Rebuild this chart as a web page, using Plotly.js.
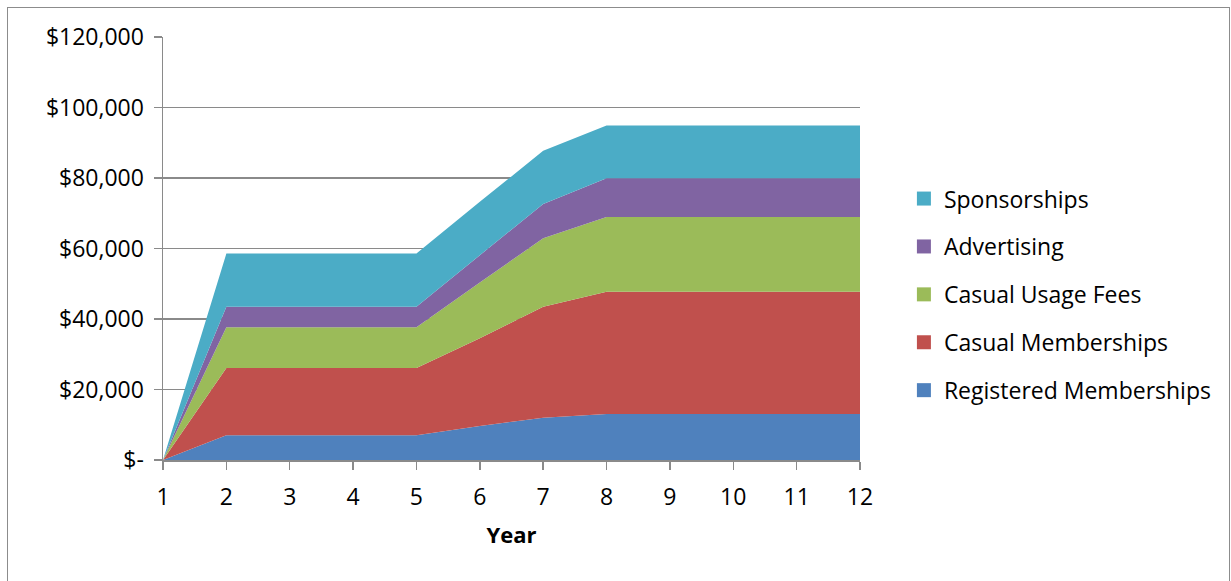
<!DOCTYPE html>
<html>
<head>
<meta charset="utf-8">
<script src="https://cdn.plot.ly/plotly-3.0.1.min.js"></script>
<style>
  html, body { margin: 0; padding: 0; background: #fff; }
  #frame { position: absolute; left: 7px; top: 7px; width: 1221px; height: 600px; border: 1px solid #8c8c8c; }
  #chart { position: absolute; left: 0; top: 0; width: 1231px; height: 581px; }
</style>
</head>
<body>
<div id="frame"></div>
<div id="chart"></div>
<script>
const years = [1, 2, 3, 4, 5, 6, 7, 8, 9, 10, 11, 12];
const registeredMemberships = [0, 7000, 7000, 7000, 7000, 9650, 12000, 13060, 13060, 13060, 13060, 13060];
const casualMemberships    = [0, 19100, 19100, 19100, 19100, 24900, 31500, 34700, 34700, 34700, 34700, 34700];
const casualUsageFees      = [0, 11550, 11550, 11550, 11550, 15800, 19400, 21200, 21200, 21200, 21200, 21200];
const advertising          = [0, 5850, 5850, 5850, 5850, 7750, 9750, 11000, 11000, 11000, 11000, 11000];
const sponsorships         = [0, 15050, 15050, 15050, 15050, 15150, 15050, 14950, 14950, 14950, 14950, 14950];

const seriesNames = ["Registered Memberships", "Casual Memberships", "Casual Usage Fees", "Advertising", "Sponsorships"];
const seriesValues = [registeredMemberships, casualMemberships, casualUsageFees, advertising, sponsorships];
const seriesColors = ["#4F81BD", "#C0504D", "#9BBB59", "#8064A2", "#4BACC6"];

const yTickVals = [0, 20000, 40000, 60000, 80000, 100000, 120000];
const yTickText = ["$-", "$20,000", "$40,000", "$60,000", "$80,000", "$100,000", "$120,000"];

const traces = [];
seriesNames.forEach((name, i) => {
  traces.push({
    x: years, y: seriesValues[i], name: name, type: "scatter", mode: "none",
    stackgroup: "one", fillcolor: seriesColors[i], line: {width: 0},
    showlegend: false, hoverinfo: "x+y+name"
  });
});
// legend entries (top to bottom: last series first)
for (let i = seriesNames.length - 1; i >= 0; i--) {
  traces.push({
    x: [null], y: [null], name: seriesNames[i], type: "scatter", mode: "markers",
    marker: {symbol: "square", size: 14, color: seriesColors[i]},
    legendgroup: "g" + i, showlegend: true, hoverinfo: "skip"
  });
}

const font = "'Open Sans', 'DejaVu Sans', sans-serif";
const gridColor = "#8a8a8a";

const layout = {
  width: 1231, height: 581,
  paper_bgcolor: "rgba(0,0,0,0)", plot_bgcolor: "rgba(0,0,0,0)",
  margin: {l: 163, r: 371, t: 37, b: 121},
  font: {family: font, size: 22, color: "#000"},
  showlegend: true,
  legend: {
    x: 1.063, xanchor: "left", y: 0.391, yanchor: "middle",
    traceorder: "grouped", tracegroupgap: 15,
    font: {family: font, size: 23, color: "#000"},
    itemwidth: 30, bgcolor: "rgba(0,0,0,0)"
  },
  xaxis: {
    range: [1, 12], tickmode: "array", tickvals: years, ticktext: years.map(String),
    showgrid: false, zeroline: false, showline: true, linecolor: gridColor, linewidth: 1.5,
    ticks: "outside", ticklen: 8, tickcolor: gridColor, tickwidth: 1.5,
    ticklabelstandoff: 8,
    tickfont: {family: font, size: 23},
    title: {text: "<b>Year</b>", font: {family: font, size: 22}, standoff: 16}
  },
  yaxis: {
    range: [0, 120000], tickmode: "array", tickvals: yTickVals, ticktext: yTickText,
    showgrid: true, gridcolor: gridColor, gridwidth: 1.5, zeroline: false,
    showline: true, linecolor: gridColor, linewidth: 1.5,
    ticks: "outside", ticklen: 8, tickcolor: gridColor, tickwidth: 1.5,
    ticklabelstandoff: 5,
    tickfont: {family: font, size: 23}
  }
};

Plotly.newPlot("chart", traces, layout, {displayModeBar: false, staticPlot: true});
</script>
</body>
</html>
